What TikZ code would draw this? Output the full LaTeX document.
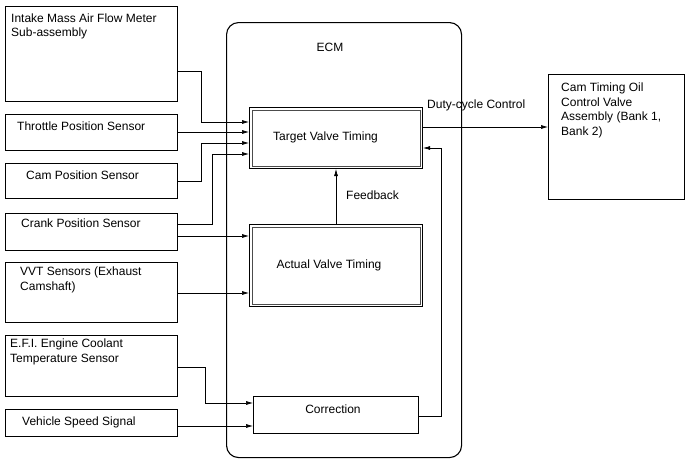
\documentclass[tikz,border=0pt]{standalone}
\usepackage{fontspec}
\setmainfont{Liberation Sans}
\usetikzlibrary{arrows.meta,calc}
\begin{document}
\begin{tikzpicture}[x=1pt,y=-1pt,
  box/.style={draw, line width=1.1pt, anchor=north west, inner sep=0pt},
  conn/.style={line width=0.6pt},
  arr/.style={line width=0.6pt, -{Latex[length=7pt,width=4pt]}},
  txt/.style={font=\fontsize{12}{14.5}\selectfont, inner sep=0pt, align=left},
  inner/.style={line width=0.6pt, draw=black!70}]
\useasboundingbox (0,0) rectangle (688,463);
% ECM
\node[draw, line width=1.1pt, rounded corners=12pt, minimum width=235, minimum height=435, anchor=north west, inner sep=0pt] (ecm) at (226,22) {};
\node[txt, anchor=base] (ecmt) at (330,51.3) {ECM};
% left boxes
\node[box, minimum width=172, minimum height=95] (b1) at (5,6) {};
\node[txt, anchor=north west] (b1t) at (11,13.5) {Intake Mass Air Flow Meter\\Sub-assembly};
\node[box, minimum width=172, minimum height=36] (b2) at (5,114) {};
\node[txt, anchor=base west] (b2t) at (17,130) {Throttle Position Sensor};
\node[box, minimum width=172, minimum height=35] (b3) at (5,163) {};
\node[txt, anchor=base west] (b3t) at (26,179.3) {Cam Position Sensor};
\node[box, minimum width=172, minimum height=37] (b4) at (5,213) {};
\node[txt, anchor=base west] (b4t) at (21,227.3) {Crank Position Sensor};
\node[box, minimum width=172, minimum height=60] (b5) at (5,262) {};
\node[txt, anchor=north west] (b5t) at (20,267) {VVT Sensors (Exhaust\\Camshaft)};
\node[box, minimum width=172, minimum height=61] (b6) at (5,335) {};
\node[txt, anchor=north west] (b6t) at (10,339) {E.F.I. Engine Coolant\\Temperature Sensor};
\node[box, minimum width=172, minimum height=27] (b7) at (5,409) {};
\node[txt, anchor=base west] (b7t) at (22,425.3) {Vehicle Speed Signal};
% inner blocks
\node[box, minimum width=173, minimum height=61] (tvt) at (249,107) {};
\draw[inner] ([shift={(3,3)}]tvt.north west) rectangle ([shift={(-3,-3)}]tvt.south east);
\node[txt, anchor=base] (tvtt) at (325.5,140.3) {Target Valve Timing};
\node[box, minimum width=173, minimum height=82] (avt) at (249,224) {};
\draw[inner] ([shift={(3,3)}]avt.north west) rectangle ([shift={(-3,-3)}]avt.south east);
\node[txt, anchor=base] (avtt) at (329,268.3) {Actual Valve Timing};
\node[box, minimum width=165, minimum height=37] (cor) at (253,396) {};
\node[txt, anchor=base] (cort) at (333,413.3) {Correction};
% right box
\node[box, minimum width=136, minimum height=125] (ctv) at (548,74) {};
\node[txt, anchor=north west] (ctvt) at (561,83) {Cam Timing Oil\\Control Valve\\Assembly (Bank 1,\\Bank 2)};
% connectors
\draw[arr] (b1.east |- 0,71) -| (201,122) -- (tvt.west |- 0,122);
\draw[arr] (b2.east |- 0,132) -- (tvt.west |- 0,132);
\draw[arr] (b3.east |- 0,181) -| (201,143) -- (tvt.west |- 0,143);
\draw[arr] (b4.east |- 0,224) -| (212,154) -- (tvt.west |- 0,154);
\draw[arr] (b4.east |- 0,236) -- (avt.west |- 0,236);
\draw[arr] (b5.east |- 0,293) -- (avt.west |- 0,293);
\draw[arr] (b6.east |- 0,367) -| (205,403) -- (cor.west |- 0,403);
\draw[arr] (b7.east |- 0,426) -- (cor.west |- 0,426);
\draw[arr] (avt.north -| 336,0) -- (tvt.south -| 336,0);
\node[txt, anchor=base west] (fb) at (346,199.3) {Feedback};
\draw[arr] (cor.east |- 0,416) -| (441,148) -- (tvt.east |- 0,148);
\draw[arr] (tvt.east |- 0,127) -- (ctv.west |- 0,127);
\node[txt, anchor=base west] (dc) at (427,108.3) {Duty-cycle Control};
\end{tikzpicture}
\end{document}
